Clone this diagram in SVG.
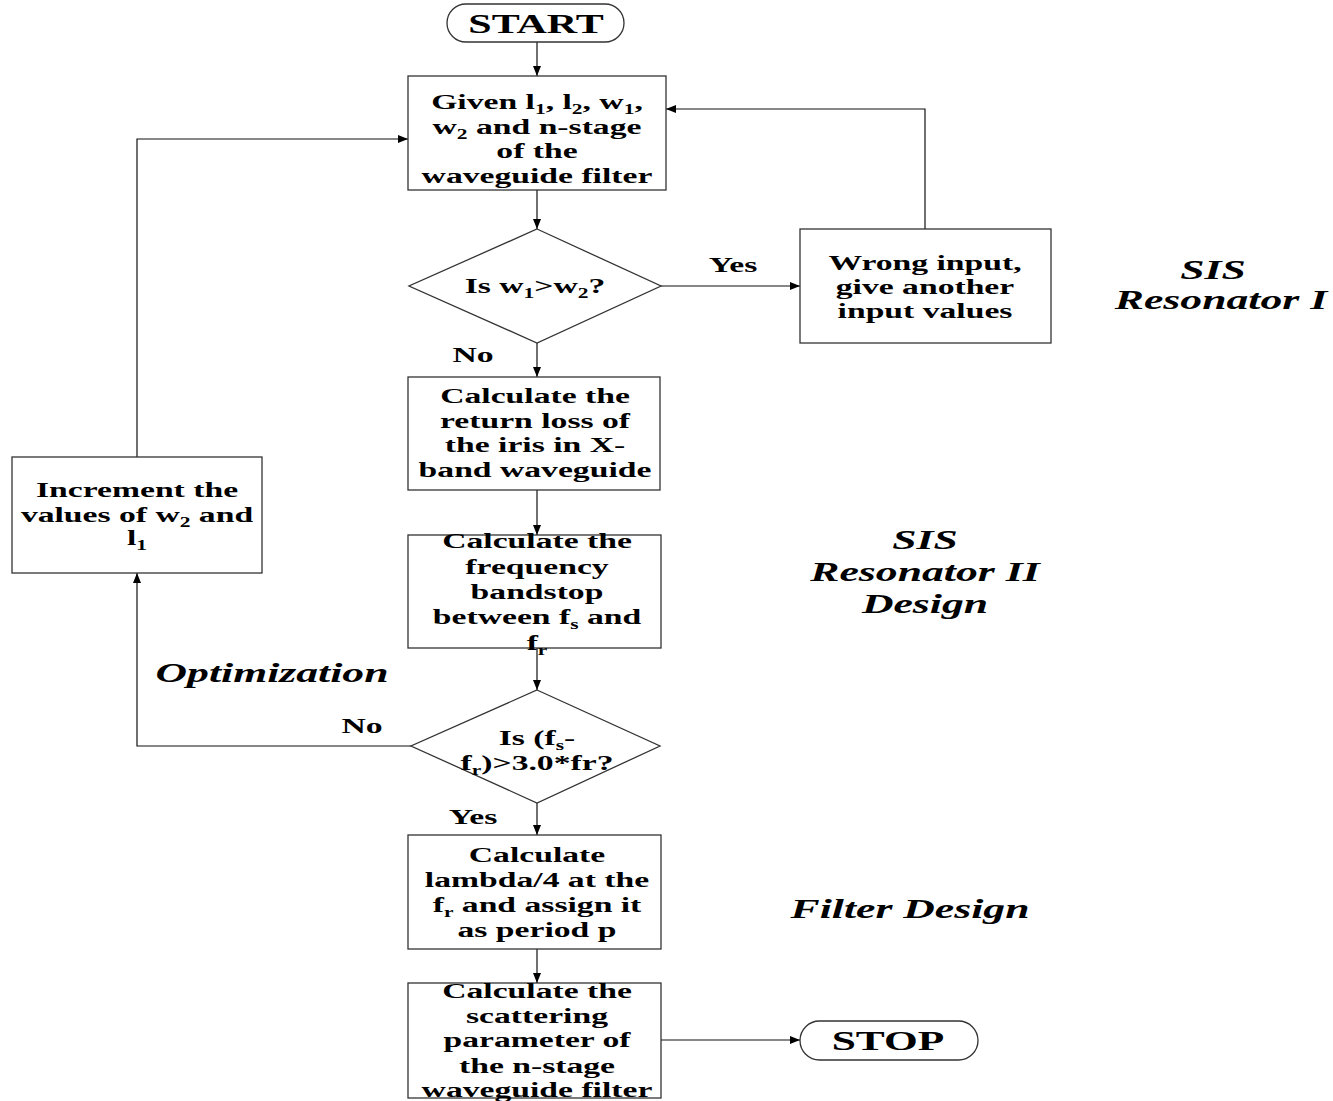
<svg xmlns="http://www.w3.org/2000/svg" width="1333" height="1101" viewBox="0 0 1333 1101">
<defs>
<marker id="ah" viewBox="0 0 10 8" refX="10" refY="4" markerWidth="10" markerHeight="8" markerUnits="userSpaceOnUse" orient="auto">
<path d="M0,0 L10,4 L0,8 Z" fill="#000"/>
</marker>
<style>
.box{fill:#fff;stroke:#333;stroke-width:1.3}
.ln{fill:none;stroke:#111;stroke-width:1.2}
.t{font-family:"Liberation Serif","Times New Roman",serif;font-weight:bold;font-size:22px;text-anchor:middle;fill:#000}
.p{font-family:"Liberation Serif","Times New Roman",serif;font-weight:bold;font-size:28px;text-anchor:middle;fill:#000}
.i{font-family:"Liberation Serif","Times New Roman",serif;font-weight:bold;font-style:italic;font-size:28px;text-anchor:middle;fill:#000}
.s{font-size:14px}
</style>
</defs>
<rect width="1333" height="1101" fill="#fff"/>

<g id="connectors">
<line class="ln" x1="537" y1="42" x2="537" y2="76" marker-end="url(#ah)"/>
<line class="ln" x1="537" y1="190" x2="537" y2="229" marker-end="url(#ah)"/>
<line class="ln" x1="661" y1="286" x2="800" y2="286" marker-end="url(#ah)"/>
<polyline class="ln" points="925,229 925,109 666,109" marker-end="url(#ah)"/>
<line class="ln" x1="537" y1="343" x2="537" y2="377" marker-end="url(#ah)"/>
<line class="ln" x1="537" y1="490" x2="537" y2="535" marker-end="url(#ah)"/>
<line class="ln" x1="537" y1="648" x2="537" y2="690" marker-end="url(#ah)"/>
<polyline class="ln" points="411,746 137,746 137,573" marker-end="url(#ah)"/>
<polyline class="ln" points="137,457 137,139 408,139" marker-end="url(#ah)"/>
<line class="ln" x1="537" y1="803" x2="537" y2="835" marker-end="url(#ah)"/>
<line class="ln" x1="537" y1="949" x2="537" y2="983" marker-end="url(#ah)"/>
<line class="ln" x1="661" y1="1040" x2="800" y2="1040" marker-end="url(#ah)"/>
<text class="t" transform="translate(733,272) scale(1.53,1)">Yes</text>
<text class="t" transform="translate(473,362) scale(1.53,1)">No</text>
<text class="t" transform="translate(362,733) scale(1.53,1)">No</text>
<text class="t" transform="translate(473,824) scale(1.53,1)">Yes</text>
</g>

<g id="start">
<rect class="box" x="447" y="4" width="177" height="38" rx="19" ry="19"/>
<text class="p" transform="translate(536,33) scale(1.5,1)">START</text>
</g>

<g id="given">
<rect class="box" x="408" y="76" width="258" height="114"/>
<text class="t" transform="translate(537,109) scale(1.53,1)">Given l<tspan class="s" dy="5">1</tspan><tspan dy="-5">, l</tspan><tspan class="s" dy="5">2</tspan><tspan dy="-5">, w</tspan><tspan class="s" dy="5">1</tspan><tspan dy="-5">,</tspan></text>
<text class="t" transform="translate(537,134) scale(1.53,1)">w<tspan class="s" dy="5">2</tspan><tspan dy="-5"> and n-stage</tspan></text>
<text class="t" transform="translate(537,158) scale(1.53,1)">of the</text>
<text class="t" transform="translate(537,183) scale(1.53,1)">waveguide filter</text>
</g>

<g id="check-w">
<polygon class="box" points="537,229 661,286 537,343 409,286"/>
<text class="t" transform="translate(535,293) scale(1.53,1)">Is w<tspan class="s" dy="5">1</tspan><tspan dy="-5">&gt;w</tspan><tspan class="s" dy="5">2</tspan><tspan dy="-5">?</tspan></text>
</g>

<g id="wrong-input">
<rect class="box" x="800" y="229" width="251" height="114"/>
<text class="t" transform="translate(925,270) scale(1.53,1)">Wrong input,</text>
<text class="t" transform="translate(925,294) scale(1.53,1)">give another</text>
<text class="t" transform="translate(925,318) scale(1.53,1)">input values</text>
</g>

<g id="return-loss">
<rect class="box" x="408" y="377" width="252" height="113"/>
<text class="t" transform="translate(535,403) scale(1.53,1)">Calculate the</text>
<text class="t" transform="translate(535,428) scale(1.53,1)">return loss of</text>
<text class="t" transform="translate(535,452) scale(1.53,1)">the iris in X-</text>
<text class="t" transform="translate(535,477) scale(1.53,1)">band waveguide</text>
</g>

<g id="bandstop">
<rect class="box" x="408" y="535" width="253" height="113"/>
<text class="t" transform="translate(537,548) scale(1.53,1)">Calculate the</text>
<text class="t" transform="translate(537,574) scale(1.53,1)">frequency</text>
<text class="t" transform="translate(537,599) scale(1.53,1)">bandstop</text>
<text class="t" transform="translate(537,624) scale(1.53,1)">between f<tspan class="s" dy="5">s</tspan><tspan dy="-5"> and</tspan></text>
<text class="t" transform="translate(537,650) scale(1.53,1)">f<tspan class="s" dy="5">r</tspan></text>
</g>

<g id="check-f">
<polygon class="box" points="537,690 660,746 537,803 411,746"/>
<text class="t" transform="translate(537,745) scale(1.53,1)">Is (f<tspan class="s" dy="5">s</tspan><tspan dy="-5">-</tspan></text>
<text class="t" transform="translate(537,770) scale(1.53,1)">f<tspan class="s" dy="5">r</tspan><tspan dy="-5">)&gt;3.0*fr?</tspan></text>
</g>

<g id="increment">
<rect class="box" x="12" y="457" width="250" height="116"/>
<text class="t" transform="translate(137,497) scale(1.53,1)">Increment the</text>
<text class="t" transform="translate(137,522) scale(1.53,1)">values of w<tspan class="s" dy="5">2</tspan><tspan dy="-5"> and</tspan></text>
<text class="t" transform="translate(137,545) scale(1.53,1)">l<tspan class="s" dy="5">1</tspan></text>
</g>

<g id="lambda">
<rect class="box" x="408" y="835" width="253" height="114"/>
<text class="t" transform="translate(537,862) scale(1.53,1)">Calculate</text>
<text class="t" transform="translate(537,887) scale(1.53,1)">lambda/4 at the</text>
<text class="t" transform="translate(537,912) scale(1.53,1)">f<tspan class="s" dy="5">r</tspan><tspan dy="-5"> and assign it</tspan></text>
<text class="t" transform="translate(537,937) scale(1.53,1)">as period p</text>
</g>

<g id="scattering">
<rect class="box" x="408" y="983" width="253" height="115"/>
<text class="t" transform="translate(537,998) scale(1.53,1)">Calculate the</text>
<text class="t" transform="translate(537,1023) scale(1.53,1)">scattering</text>
<text class="t" transform="translate(537,1047) scale(1.53,1)">parameter of</text>
<text class="t" transform="translate(537,1073) scale(1.53,1)">the n-stage</text>
<text class="t" transform="translate(537,1097) scale(1.53,1)">waveguide filter</text>
</g>

<g id="stop">
<rect class="box" x="800" y="1021" width="178" height="39" rx="19.5" ry="19.5"/>
<text class="p" transform="translate(888,1050) scale(1.55,1)">STOP</text>
</g>

<g id="section-labels">
<text class="i" transform="translate(1213,279) scale(1.56,1)">SIS</text>
<text class="i" transform="translate(1221,309) scale(1.56,1)">Resonator I</text>
<text class="i" transform="translate(925,549) scale(1.56,1)">SIS</text>
<text class="i" transform="translate(925,581) scale(1.56,1)">Resonator II</text>
<text class="i" transform="translate(925,613) scale(1.56,1)">Design</text>
<text class="i" transform="translate(910,918) scale(1.56,1)">Filter Design</text>
<text class="i" transform="translate(272,682) scale(1.56,1)">Optimization</text>
</g>
</svg>
